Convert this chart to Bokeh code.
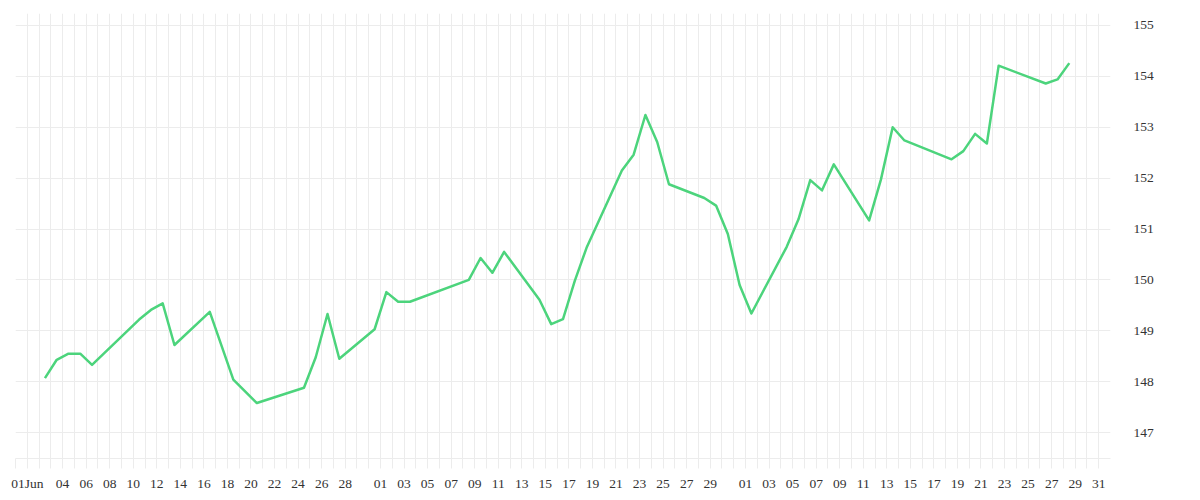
import pandas as pd
from bokeh.plotting import figure
from bokeh.models import FixedTicker, Range1d, ColumnDataSource
from bokeh.embed import file_html
from bokeh.resources import INLINE

# ---- data ----
dates = [
    "2024-06-02 12:00", "2024-06-03 12:00", "2024-06-04 12:00", "2024-06-05 12:00",
    "2024-06-06 12:00", "2024-06-10 12:00", "2024-06-11 12:00", "2024-06-12 12:00",
    "2024-06-13 12:00", "2024-06-16 12:00", "2024-06-18 12:00", "2024-06-20 12:00",
    "2024-06-24 12:00", "2024-06-25 12:00", "2024-06-26 12:00", "2024-06-27 12:00",
    "2024-06-30 12:00", "2024-07-01 12:00", "2024-07-02 12:00", "2024-07-03 12:00",
    "2024-07-08 12:00", "2024-07-09 12:00", "2024-07-10 12:00", "2024-07-11 12:00",
    "2024-07-14 12:00", "2024-07-15 12:00", "2024-07-16 12:00", "2024-07-17 12:00",
    "2024-07-18 12:00", "2024-07-21 12:00", "2024-07-22 12:00", "2024-07-23 12:00",
    "2024-07-24 12:00", "2024-07-25 12:00", "2024-07-28 12:00", "2024-07-29 12:00",
    "2024-07-30 12:00", "2024-07-31 12:00", "2024-08-01 12:00", "2024-08-04 12:00",
    "2024-08-05 12:00", "2024-08-06 12:00", "2024-08-07 12:00", "2024-08-08 12:00",
    "2024-08-11 12:00", "2024-08-12 12:00", "2024-08-13 12:00", "2024-08-14 12:00",
    "2024-08-18 12:00", "2024-08-19 12:00", "2024-08-20 12:00", "2024-08-21 12:00",
    "2024-08-22 12:00", "2024-08-26 12:00", "2024-08-27 12:00", "2024-08-28 12:00",
]
values = [
    148.07, 148.43, 148.55, 148.55,
    148.33, 149.22, 149.41, 149.54,
    148.72, 149.37, 148.04, 147.58,
    147.88, 148.48, 149.33, 148.45,
    149.03, 149.76, 149.57, 149.57,
    150.00, 150.43, 150.14, 150.55,
    149.61, 149.13, 149.23, 149.98,
    150.63, 152.15, 152.46, 153.24,
    152.71, 151.88, 151.61, 151.46,
    150.90, 149.90, 149.34, 150.65,
    151.19, 151.96, 151.76, 152.27,
    151.17, 151.97, 153.00, 152.74,
    152.37, 152.53, 152.87, 152.68,
    154.21, 153.86, 153.94, 154.26,
]

tick_dates = (
    ["2024-06-01", "2024-06-04"]
    + [f"2024-06-{d:02d}" for d in range(6, 29, 2)]
    + [f"2024-07-{d:02d}" for d in range(1, 30, 2)]
    + [f"2024-08-{d:02d}" for d in range(1, 32, 2)]
)
tick_labels = ["01Jun"] + [d[-2:] for d in tick_dates[1:]]
y_ticks = [147, 148, 149, 150, 151, 152, 153, 154, 155]

# ---- convert to day numbers since 1 Jun ----
origin = pd.Timestamp("2024-06-01")
xs = [(pd.Timestamp(d) - origin) / pd.Timedelta(days=1) for d in dates]
tick_pos = [int((pd.Timestamp(d) - origin).days) for d in tick_dates]
start_day = (pd.Timestamp("2024-05-31") - origin).days
end_day = (pd.Timestamp("2024-09-01") - origin).days

all_ticks = list(range(start_day, end_day))
overrides = {t: "" for t in all_ticks}
for t, lab in zip(tick_pos, tick_labels):
    overrides[t] = lab

src = ColumnDataSource(dict(x=xs, y=values))

p = figure(width=1192, height=493, output_backend="svg", toolbar_location=None,
           x_range=Range1d(start_day, end_day), y_range=Range1d(146.49, 155.235),
           y_axis_location="right",
           min_border_left=15, min_border_top=13, min_border_right=82, min_border_bottom=10)
p.outline_line_color = None
p.background_fill_color = "white"

p.line("x", "y", source=src, line_color="#4cd47c", line_width=2.5, line_join="round")

GRID = "#ececec"
FONT = "Liberation Serif"

xa = p.xaxis[0]
xa.ticker = FixedTicker(ticks=all_ticks)
xa.major_label_overrides = overrides
xa.axis_line_color = GRID
xa.major_tick_line_color = GRID
xa.major_tick_out = 10
xa.major_tick_in = 0
xa.minor_tick_line_color = None
xa.major_label_standoff = 7
xa.major_label_text_font = FONT
xa.major_label_text_font_size = "13.5px"
xa.major_label_text_color = "#333333"

ya = p.yaxis[0]
ya.ticker = FixedTicker(ticks=y_ticks)
ya.axis_line_color = None
ya.major_tick_line_color = None
ya.minor_tick_line_color = None
ya.major_label_standoff = 17
ya.major_label_text_font = FONT
ya.major_label_text_font_size = "13.5px"
ya.major_label_text_color = "#333333"

p.xgrid.grid_line_color = GRID
p.ygrid.grid_line_color = GRID
p.xgrid.grid_line_width = 1
p.ygrid.grid_line_width = 1

open("out.html", "w").write(file_html(p, INLINE))
